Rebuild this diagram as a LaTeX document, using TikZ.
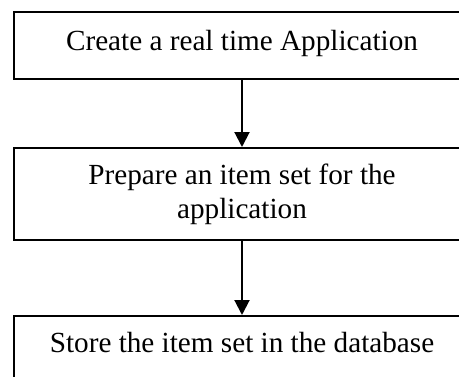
\documentclass[tikz,border=0pt]{standalone}
\usepackage{fontspec}
\setmainfont{Liberation Serif}
\usetikzlibrary{arrows.meta}
\begin{document}
\begin{tikzpicture}[x=1pt,y=-1pt,
  stepbox/.style={draw, rectangle, line width=2pt, minimum width=456pt,
    inner sep=0pt, anchor=north west},
  steptext/.style={font=\fontsize{29.2}{34}\selectfont, align=center,
    anchor=base, inner sep=0pt},
  flow/.style={line width=2pt, -{Triangle[width=15pt,length=15pt]}}]
\useasboundingbox (0,0) rectangle (459,376);
\clip (0,0) rectangle (459,376);
% the three process boxes
\node[stepbox, minimum height=67pt] (create) at (13,11) {};
\node[stepbox, minimum height=92pt] (prepare) at (13,147) {};
\node[stepbox, minimum height=67pt] (store) at (13,315) {};
% box texts (the base anchor sits on the last line of a node)
\node[steptext, yshift=-39pt] (createtext) at (create.north) {Create a real time Application};
\node[steptext, yshift=-71pt] (preparetext) at (prepare.north) {Prepare an item set for the\\application};
\node[steptext, yshift=-37pt] (storetext) at (store.north) {Store the item set in the database};
% flow arrows
\draw[flow] (create) -- (prepare);
\draw[flow] (prepare) -- (store);
\end{tikzpicture}
\end{document}
